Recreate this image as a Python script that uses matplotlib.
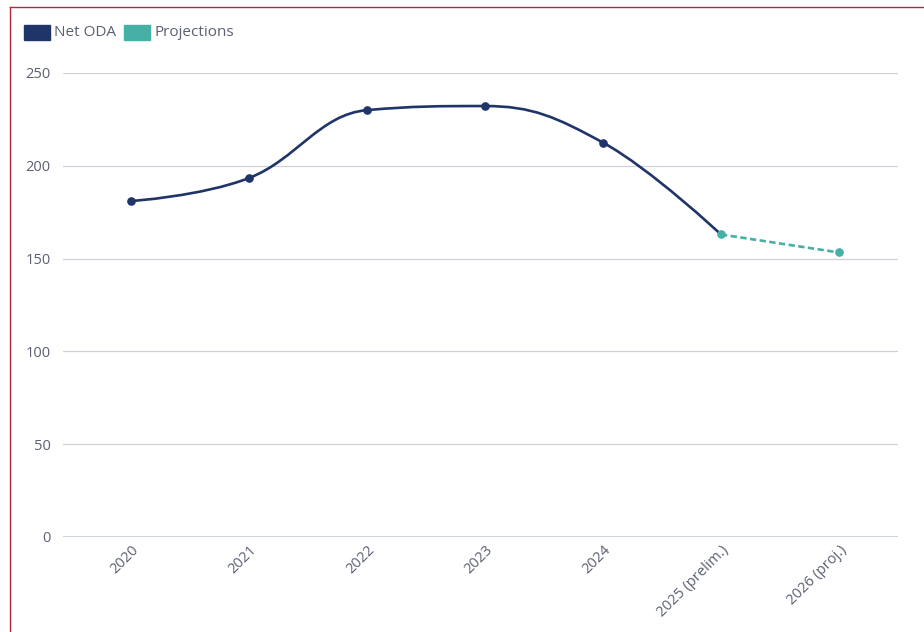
import numpy as np
import matplotlib.pyplot as plt
from matplotlib.path import Path
from matplotlib.patches import PathPatch, Rectangle
from matplotlib.lines import Line2D
from matplotlib import transforms

plt.rcParams['font.family'] = ['Open Sans', 'DejaVu Sans']

# data
categories = ['2020', '2021', '2022', '2023', '2024', '2025 (prelim.)', '2026 (proj.)']
net_oda = [181.0, 193.4, 230.0, 232.2, 212.5]
projections = [163.0, 153.3]
yticks = [0, 50, 100, 150, 200, 250]

navy = '#1f3469'
teal = '#45b0a6'
text_col = '#5b6072'
grid_col = '#cfd3d8'

W, H = 924, 632
fig = plt.figure(figsize=(W / 100, H / 100), dpi=100)
ax = fig.add_axes([63 / W, (H - 537) / H, (898 - 63) / W, (537 - 73) / H])


def spline_path(xs, ys, smoothing=1.5):
    # spline like the usual web chart libs: control points 1/2.5 of the way,
    # made collinear, and clamped so no false extremes appear
    n = len(xs)
    denom = smoothing + 1
    right = [None] * n
    left = [None] * n
    for i in range(1, n - 1):
        px, py = xs[i], ys[i]
        lx, ly = xs[i - 1], ys[i - 1]
        nx, ny = xs[i + 1], ys[i + 1]
        lcx = (smoothing * px + lx) / denom
        lcy = (smoothing * py + ly) / denom
        rcx = (smoothing * px + nx) / denom
        rcy = (smoothing * py + ny) / denom
        corr = 0
        if rcx != lcx:
            corr = (rcy - lcy) * (rcx - px) / (rcx - lcx) + py - rcy
        lcy += corr
        rcy += corr
        if lcy > ly and lcy > py:
            lcy = max(ly, py)
            rcy = 2 * py - lcy
        elif lcy < ly and lcy < py:
            lcy = min(ly, py)
            rcy = 2 * py - lcy
        if rcy > ny and rcy > py:
            rcy = max(ny, py)
            lcy = 2 * py - rcy
        elif rcy < ny and rcy < py:
            rcy = min(ny, py)
            lcy = 2 * py - rcy
        left[i] = (lcx, lcy)
        right[i] = (rcx, rcy)
    verts = [(xs[0], ys[0])]
    codes = [Path.MOVETO]
    for i in range(1, n):
        c1 = right[i - 1] if right[i - 1] else (xs[i - 1], ys[i - 1])
        c2 = left[i] if left[i] else (xs[i], ys[i])
        verts += [c1, c2, (xs[i], ys[i])]
        codes += [Path.CURVE4] * 3
    return Path(verts, codes)


x_all = np.arange(len(categories))
x_oda = list(x_all[:len(net_oda) + 1])
y_oda = net_oda + [projections[0]]

ax.add_patch(PathPatch(spline_path(x_oda, y_oda), facecolor='none',
                       edgecolor=navy, lw=1.9, capstyle='round', zorder=3))
ax.plot(x_all[len(net_oda):], projections, color=teal, lw=1.9,
        dashes=(2.4, 1.3), zorder=3)
ax.plot(x_all[:len(net_oda)], net_oda, 'o', color=navy, ms=5.2, zorder=4)
ax.plot(x_all[len(net_oda):], projections, 'o', color=teal, ms=5.2, zorder=4)

ax.set_xlim(-0.576, 6.5)
ax.set_ylim(0, 250)
ax.set_yticks(yticks)
ax.set_xticks(x_all)
ax.set_xticklabels([])
for s in ax.spines.values():
    s.set_visible(False)
ax.tick_params(axis='both', length=0)
ax.tick_params(axis='y', pad=9, labelsize=10.5, labelcolor=text_col)
for v in yticks[1:]:
    ax.axhline(v, color=grid_col, lw=0.9, zorder=1)
ax.axhline(0, color='#c3ccd8', lw=1.2, zorder=1)

offset = transforms.ScaledTranslation(5 / 100, -11 / 100, fig.dpi_scale_trans)
for xi, lab in zip(x_all, categories):
    ax.text(xi, 0, lab, transform=ax.transData + offset, rotation=45,
            rotation_mode='anchor', ha='right', va='center',
            fontsize=10.5, color=text_col)

# legend
for x0, col, lab in [(24, navy, 'Net ODA'), (124, teal, 'Projections')]:
    fig.patches.append(Rectangle((x0 / W, (H - 40) / H), 26 / W, 15 / H,
                                 transform=fig.transFigure, color=col))
    fig.text((x0 + 30) / W, (H - 33) / H, lab, ha='left', va='center',
             fontsize=11, color=text_col)

# red frame
red = '#b0283a'
fig.lines.append(Line2D([10 / W, 10 / W], [0, (H - 7) / H], transform=fig.transFigure,
                        color=red, lw=1.0))
fig.lines.append(Line2D([10 / W, 1], [(H - 7) / H, (H - 7) / H], transform=fig.transFigure,
                        color=red, lw=1.0))

fig.savefig('out.png', dpi=100)
